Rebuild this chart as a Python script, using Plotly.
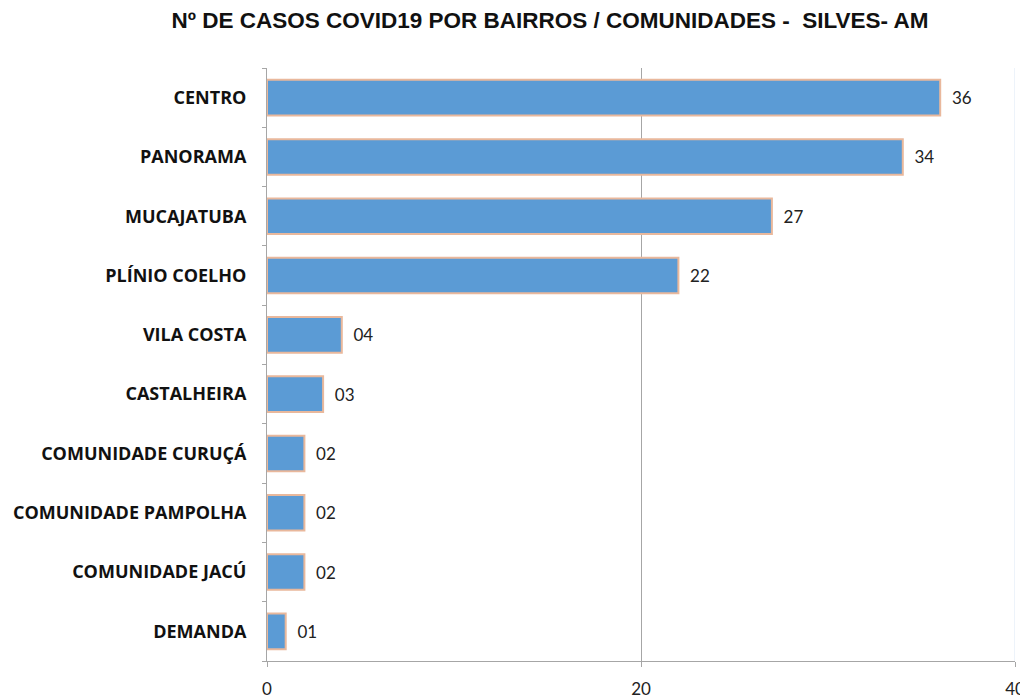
import plotly.graph_objects as go

categories = ["CENTRO", "PANORAMA", "MUCAJATUBA", "PLÍNIO COELHO", "VILA COSTA",
              "CASTALHEIRA", "COMUNIDADE CURUÇÁ", "COMUNIDADE PAMPOLHA",
              "COMUNIDADE JACÚ", "DEMANDA"]
cases = [36, 34, 27, 22, 4, 3, 2, 2, 2, 1]
labels = ["36", "34", "27", "22", "04", "03", "02", "02", "02", "01"]
x_ticks = [0, 20, 40]
x_max = 40

W, H = 1020, 692

fig = go.Figure(go.Bar(
    y=categories,
    x=cases,
    orientation="h",
    text=labels,
    texttemplate="  %{text}",
    textposition="outside",
    textfont=dict(family="Lato, Liberation Sans, sans-serif", size=17, color="#222"),
    cliponaxis=False,
    marker=dict(color="#5b9bd5", line=dict(color="#e9b89c", width=2)),
))

fig.update_layout(
    width=W, height=H,
    margin=dict(l=259, r=13, t=60, b=39),
    paper_bgcolor="white", plot_bgcolor="white",
    bargap=0.4,
    showlegend=False,
    title=dict(text="<b>Nº DE CASOS COVID19 POR BAIRROS / COMUNIDADES -  SILVES- AM</b>",
               x=(550 - 8) / W, xanchor="center", y=1 - 12 / H, yanchor="middle",
               font=dict(family="Liberation Sans, Arial, sans-serif", size=22.5, color="#111")),
    xaxis=dict(range=[0, x_max], tickvals=x_ticks, showgrid=True, gridcolor="#a6a6a6",
               gridwidth=1, zeroline=False, showline=True, linecolor="#a6a6a6",
               ticks="outside", ticklen=5, tickcolor="#a6a6a6", automargin=False,
               ticklabelstandoff=8,
               tickfont=dict(family="Lato, Liberation Sans, sans-serif", size=17, color="#222")),
    yaxis=dict(categoryorder="array", categoryarray=categories[::-1],
               showline=True, linecolor="#a6a6a6", ticks="outside", ticklen=4,
               tickcolor="#a6a6a6", tickson="boundaries", ticklabelstandoff=16,
               showgrid=False, automargin=False,
               tickfont=dict(family="Open Sans, Lato, sans-serif", size=18,
                             color="#111", weight="bold")),
    shapes=[dict(type="line", xref="x", yref="paper", x0=x_max, x1=x_max, y0=0, y1=1,
                 line=dict(color="#dbe6f4", width=1))],
)

fig.write_html("out.html")
